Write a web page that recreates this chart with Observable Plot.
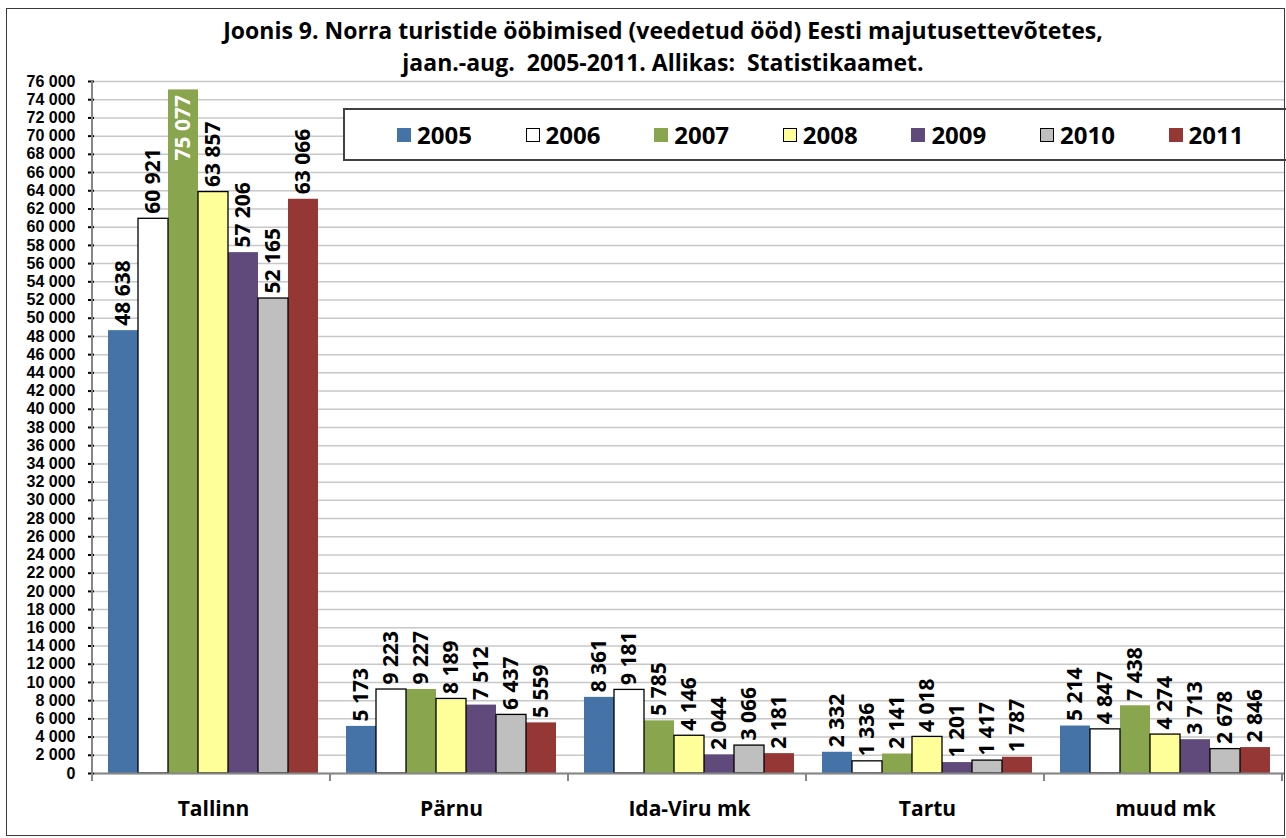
<!DOCTYPE html>
<html><head><meta charset="utf-8">
<script src="https://cdn.jsdelivr.net/npm/d3@7"></script>
<script src="https://cdn.jsdelivr.net/npm/@observablehq/plot@0.6"></script>
<style>
body{margin:0;background:#fff;font-family:"Open Sans",sans-serif;}
#page{position:relative;width:1286px;height:838px;overflow:hidden;background:#fff;}
#border{position:absolute;left:6px;top:8px;width:1277px;height:826px;border:1.5px solid #3a3a3a;pointer-events:none;}
#title{position:absolute;left:20px;width:1286px;top:14px;text-align:center;font-weight:700;font-size:23px;line-height:32px;white-space:pre;color:#000;}
#chart{position:absolute;left:0;top:70px;}
#legend{position:absolute;left:343px;top:108px;width:941px;height:49px;border:2px solid #404040;background:#fff;}
.item{position:absolute;top:0;height:49px;display:flex;align-items:center;font-weight:700;font-size:24px;color:#000;}
.sw{width:14px;height:14px;margin-right:6px;box-sizing:border-box;}
#chart [aria-label^="fx-axis"] text{font-size:21px;}
#chart [aria-label^="y-axis"] text{font-size:16px;font-family:"Liberation Sans",Arial,sans-serif;}
#chart [aria-label="y-axis tick"]{stroke:#868686;stroke-width:2px;}
</style></head><body>
<div id="page">
<div id="title">Joonis 9. Norra turistide ööbimised (veedetud ööd) Eesti majutusettevõtetes,
jaan.-aug.  2005-2011. Allikas:  Statistikaamet.</div>
<div id="chart"></div>
<div id="legend"></div>
<div id="border"></div>
</div>
<script>
const categories = ["Tallinn", "Pärnu", "Ida-Viru mk", "Tartu", "muud mk"];
const years = ["2005", "2006", "2007", "2008", "2009", "2010", "2011"];
const colors = ["#4572A7", "#FFFFFF", "#89A54E", "#FFFF99", "#604A7B", "#BFBFBF", "#953735"];
const outlined = ["2006", "2008", "2010"];
const v2005 = [48638, 5173, 8361, 2332, 5214];
const v2006 = [60921, 9223, 9181, 1336, 4847];
const v2007 = [75077, 9227, 5785, 2141, 7438];
const v2008 = [63857, 8189, 4146, 4018, 4274];
const v2009 = [57206, 7512, 2044, 1201, 3713];
const v2010 = [52165, 6437, 3066, 1417, 2678];
const v2011 = [63066, 5559, 2181, 1787, 2846];
const series = [v2005, v2006, v2007, v2008, v2009, v2010, v2011];
const yTicks = d3.range(0, 76001, 2000);

const fmt = v => d3.format(",")(v).replace(/,/g, " ");
const rows = [];
categories.forEach((c, i) => years.forEach((y, j) => rows.push({category: c, year: y, value: series[j][i]})));

const common = {fx: "category", x: "year", y: "value"};
const chart = Plot.plot({
  width: 1286, height: 768,
  marginTop: 11, marginBottom: 65, marginLeft: 92, marginRight: 0,
  style: {fontFamily: "Open Sans", fontWeight: "bold", fontSize: "16px", color: "#000", background: "transparent", overflow: "visible"},
  fx: {domain: categories, padding: 0, axis: "bottom", tickSize: 0, tickPadding: 28, label: null},
  x: {domain: years, paddingInner: 0, paddingOuter: 0.42, axis: null},
  y: {domain: [0, 76000], ticks: yTicks, tickFormat: fmt, tickSize: 6, tickPadding: 13, label: null},
  color: {domain: years, range: colors},
  marks: [
    Plot.ruleY(yTicks, {stroke: "#c8c8c8", strokeWidth: 1.5}),
    Plot.barY(rows, {...common, fill: "year"}),
    Plot.barY(rows.filter(d => outlined.includes(d.year)), {...common, fill: "none", stroke: "#000", strokeWidth: 1.3}),
    Plot.ruleY([0], {stroke: "#868686", strokeWidth: 2}),
    Plot.text(rows.filter(d => d.value < 70000), {...common, text: d => fmt(d.value), rotate: -90, textAnchor: "start", dy: -5, fontSize: 21, fontWeight: "bold", fill: "#000"}),
    Plot.text(rows.filter(d => d.value >= 70000), {...common, text: d => fmt(d.value), rotate: -90, textAnchor: "end", dy: 5, fontSize: 21, fontWeight: "bold", fill: "#fff"})
  ]
});
document.getElementById("chart").appendChild(chart);

// axis line and category separator ticks from the scales
const fxs = chart.scale("fx"), ys = chart.scale("y");
const y0 = ys.range[0], y1 = ys.range[1];
const g = d3.select(chart).append("g").attr("stroke", "#868686").attr("stroke-width", 2);
g.append("line").attr("x1", fxs.range[0]).attr("x2", fxs.range[0]).attr("y1", y1).attr("y2", y0 + 1);
for (let i = 0; i <= categories.length; i++) {
  const x = fxs.range[0] + i * fxs.step;
  g.append("line").attr("x1", x).attr("x2", x).attr("y1", y0).attr("y2", y0 + 8);
}

// legend
const leg = document.getElementById("legend");
years.forEach((y, j) => {
  const it = document.createElement("div");
  it.className = "item";
  it.style.left = (52 + j * 128.6) + "px";
  const sw = document.createElement("div");
  sw.className = "sw";
  sw.style.background = colors[j];
  if (outlined.includes(y)) sw.style.border = "1.3px solid #000";
  it.appendChild(sw);
  it.appendChild(document.createTextNode(y));
  leg.appendChild(it);
});
</script>
</body></html>
